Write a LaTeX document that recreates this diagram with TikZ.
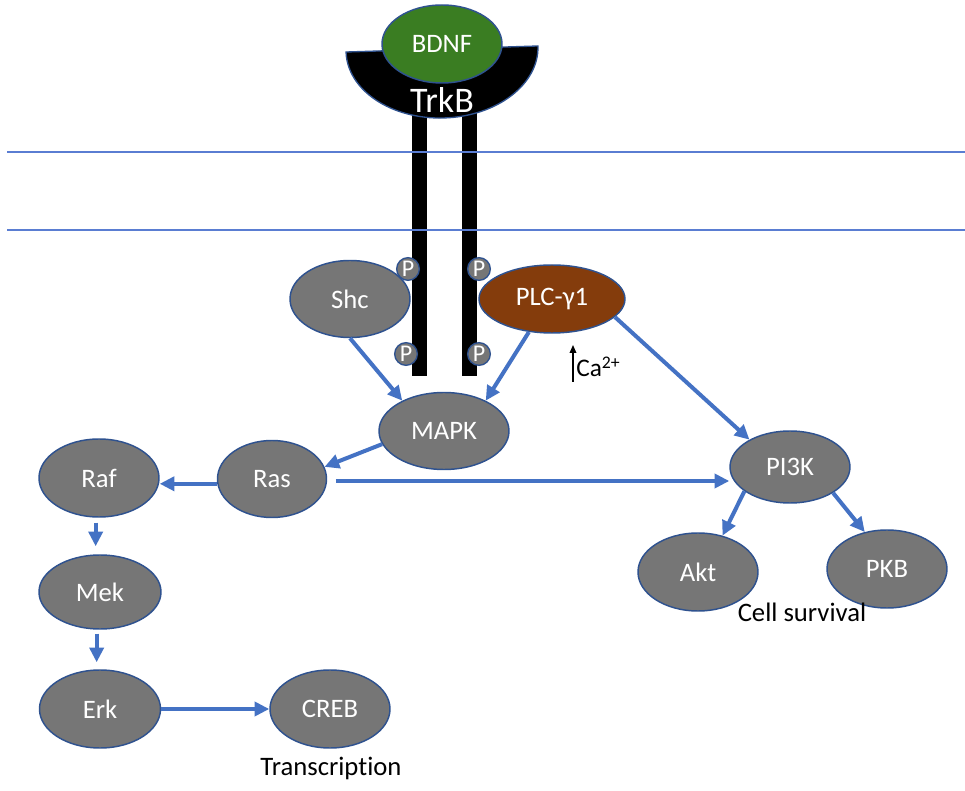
\documentclass[tikz,border=0pt]{standalone}
\usepackage{fontspec}
\setmainfont[Ligatures={NoCommon}]{Carlito}
\usetikzlibrary{shapes.geometric,arrows.meta}
\definecolor{protgray}{RGB}{118,118,118}
\definecolor{outl}{RGB}{47,82,143}
\definecolor{arrblue}{RGB}{68,114,196}
\definecolor{membblue}{RGB}{90,125,210}
\definecolor{bdnfgreen}{RGB}{58,125,34}
\definecolor{plcbrown}{RGB}{132,60,12}
\begin{document}
\begin{tikzpicture}[x=0.75pt,y=-0.75pt,
  prot/.style={ellipse, draw=outl, line width=1.1pt, fill=protgray, text=white,
    inner sep=0pt, font=\fontsize{20}{24}\selectfont},
  sz/.style 2 args={minimum width=#1*0.75pt, minimum height=#2*0.75pt},
  arr/.style={draw=arrblue, line width=3pt, -{Triangle[length=11pt,width=10.5pt]}},
  phos/.style={circle, draw=outl, line width=1pt, fill=protgray, text=white,
    inner sep=0pt, minimum size=17pt, font=\fontsize{18}{18}\selectfont},
  lab/.style={text=black, inner sep=0pt, font=\fontsize{20}{24}\selectfont},
  membrane/.style={draw=membblue, line width=1pt},
  stalk/.style={fill=black}]
\useasboundingbox (0,0) rectangle (965,791);
\fill[white] (0,0) rectangle (965,791);

% receptor stalks
\fill[stalk] (412,110) rectangle (427,376);
\fill[stalk] (462,110) rectangle (477,376);

% receptor bowl
\filldraw[fill=black, draw=outl, line width=1pt, rotate around={1.8:(442,49)}]
  (346,49) -- (538,49) arc[start angle=0, end angle=180, x radius=96, y radius=69] -- cycle;

% BDNF and TrkB
\node[prot, sz={120}{78}, fill=bdnfgreen] (bdnf) at (442,44) {BDNF};
\node[text=white, inner sep=0pt, font=\fontsize{27}{30}\selectfont] (trkb) at (442,100) {TrkB};

% membrane
\draw[membrane] (7,152) -- (965,152);
\draw[membrane] (7,230) -- (965,230);

% proteins
\node[prot, sz={120}{77}] (shc) at (350,299) {Shc};
\node[prot, sz={146}{68}, fill=plcbrown] (plc) at (552,299) {PLC-γ1};
\node[prot, sz={130}{77}] (mapk) at (444,431) {MAPK};
\node[prot, sz={109}{77}] (ras) at (272,479) {Ras};
\node[prot, sz={120}{78}] (raf) at (99,478) {Raf};
\node[prot, sz={122}{74}] (mek) at (100,592) {Mek};
\node[prot, sz={121}{78}] (erk) at (100,709) {Erk};
\node[prot, sz={120}{78}] (creb) at (330,709) {CREB};
\node[prot, sz={120}{72}] (pi3k) at (790,467) {PI3K};
\node[prot, sz={120}{78}] (akt) at (698,572) {Akt};
\node[prot, sz={120}{78}] (pkb) at (887,569) {PKB};

% phosphorylation sites
\node[phos] (p1) at (408,269) {P};
\node[phos] (p2) at (406,354) {P};
\node[phos] (p3) at (479,269) {P};
\node[phos] (p4) at (479,354) {P};

% connectors
\draw[arr] (shc.-90) -- (mapk.144);
\draw[arr] (plc.-125) -- (mapk.36);
\draw[arr] (mapk.192) -- (ras.13);
\draw[arr] (ras.185) -- (ras.185 -| raf.east);
\draw[arr] ([xshift=6.5pt,yshift=-1.5pt]ras.east) -- ([yshift=-1.5pt]ras.east -| pi3k.west);
\draw[arr] (plc.-16) -- (pi3k.146);
\draw[arr] (pi3k.208) -- (akt.56);
\draw[arr] (pi3k.-31) -- (pkb.121);
\draw[arr] ([xshift=-2.5pt,yshift=-3.75pt]raf.south) -- ([xshift=-2.5pt,yshift=6pt]raf.south |- mek.north);
\draw[arr] ([xshift=-2.5pt,yshift=-3pt]mek.south) -- ([xshift=-2.5pt,yshift=5.25pt]mek.south |- erk.north);
\draw[arr] (erk.east) -- (creb.west);

% labels
\node[lab] (trans) at (331,768) {Transcription};
\node[lab] (surv) at (802,612) {Cell survival};
\node[lab, anchor=base west, font=\fontsize{19}{22}\selectfont] (ca) at (576,377) {Ca\textsuperscript{2+}};
\coordinate (cabot) at (573,382);
\coordinate (catop) at (573,345);
\draw[line width=0.9pt, -{Triangle[length=6pt,width=5pt]}] (cabot) -- (catop);
\end{tikzpicture}
\end{document}
